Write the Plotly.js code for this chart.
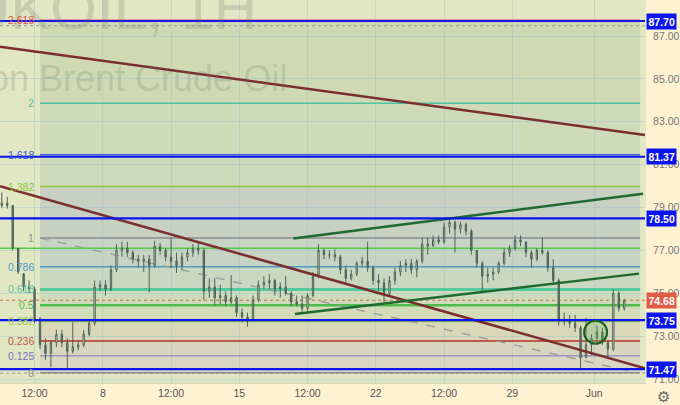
<!DOCTYPE html>
<html>
<head>
<meta charset="utf-8">
<script src="https://cdn.plot.ly/plotly-3.0.1.min.js"></script>
<style>html,body{margin:0;padding:0;background:#fef2d2;}#chart{width:680px;height:405px;}</style>
</head>
<body>
<div id="chart"></div>
<script>
// ---- DATA ----
// candles: 4.8h bars, x in trading-day units (May 1 00:00 = 0, weekends skipped)
const candleStart = 1.3;
const candleStep = 0.2;
const opens  = [79.1,79.2,79.1,77.1,75.9,75.3,75.2,73.8,72.6,72.2,72.7,73.1,72.7,72.3,72.5,72.6,73.1,73.6,75.3,75.4,
                75.2,76.1,77.0,77.1,76.9,76.6,76.5,76.6,76.3,77.2,77.0,76.7,76.5,76.3,76.7,76.9,77.1,77.0,75.1,75.3,
                74.8,74.9,74.6,74.8,74.1,73.9,73.8,74.7,75.4,75.5,75.6,75.2,75.3,75.0,74.6,74.5,74.3,74.9,75.8,77.0,
                76.8,76.8,76.7,76.1,75.7,75.9,76.4,76.5,76.2,75.6,75.5,75.0,75.6,76.0,76.3,76.4,76.1,76.5,77.3,77.2,
                77.5,77.4,78.1,78.3,78.0,78.2,77.9,77.0,76.4,75.8,75.9,76.0,76.4,76.9,77.1,77.5,77.4,76.9,76.6,77.0,
                76.9,76.2,75.6,73.8,73.7,73.6,73.4,72.0,72.6,72.9,73.2,72.7,72.4,75.0,74.3];
const highs  = [79.7,79.5,79.1,77.1,75.95,75.6,75.3,73.9,72.9,72.8,73.3,73.3,72.9,73.65,72.8,73.3,73.8,75.6,75.6,75.6,
                76.3,77.3,77.4,77.4,77.0,76.8,76.8,76.8,77.45,77.35,77.1,77.6,76.9,76.9,77.1,77.3,77.35,77.1,75.7,75.7,
                75.4,75.1,75.85,74.9,74.3,74.1,74.9,75.6,75.8,75.9,75.7,75.5,75.8,75.1,74.9,74.9,75.0,76.0,77.3,77.1,
                77.0,77.05,76.8,76.3,76.1,76.5,76.7,77.4,76.3,75.9,75.7,75.8,76.2,76.5,76.6,76.6,76.6,77.6,77.6,77.7,
                77.7,78.3,78.5,78.4,78.35,78.3,78.0,77.0,76.5,76.2,76.2,76.5,77.1,77.25,77.7,77.7,77.4,77.0,77.1,77.6,
                77.0,76.6,75.7,74.1,74.0,74.0,73.5,73.85,73.1,73.5,73.4,72.8,75.2,75.1,74.75];
const lows   = [79.0,78.95,77.0,75.9,75.1,75.0,73.6,72.4,71.9,71.55,72.5,72.5,71.5,72.2,72.35,72.5,73.0,73.5,75.1,74.9,
                75.1,76.0,76.7,76.7,76.4,76.2,76.0,75.05,76.2,76.8,76.5,76.2,75.95,76.1,76.5,76.7,76.8,74.7,74.8,74.4,
                74.5,74.4,74.5,73.9,73.65,73.45,73.7,74.6,75.2,75.2,74.9,74.8,74.9,74.4,74.4,74.1,74.1,74.8,75.7,76.6,
                76.6,76.5,75.9,75.5,75.6,75.8,76.2,76.0,75.4,75.1,74.6,74.9,75.4,75.8,76.0,75.9,75.75,76.4,76.8,77.2,
                77.3,77.3,77.8,76.9,77.8,77.7,76.8,76.2,75.05,75.5,75.6,75.9,76.3,76.7,77.0,77.2,76.7,76.2,76.5,76.8,
                76.0,75.4,73.5,73.5,73.4,73.2,71.5,72.0,72.1,72.6,72.6,72.0,72.3,74.15,74.2];
const closes = [79.2,79.1,77.1,76.0,75.3,75.2,73.8,72.6,72.2,72.7,73.1,72.7,72.3,72.5,72.6,73.1,73.6,75.3,75.4,75.2,
                76.1,77.0,77.1,76.9,76.6,76.5,76.6,76.3,77.2,77.0,76.7,76.5,76.3,76.7,76.9,77.1,77.0,75.1,75.3,74.8,
                74.9,74.6,74.8,74.1,73.9,73.8,74.7,75.4,75.5,75.6,75.2,75.3,75.0,74.6,74.5,74.3,74.9,75.8,77.0,76.8,
                76.8,76.7,76.1,75.7,75.9,76.4,76.5,76.2,75.6,75.5,75.0,75.6,76.0,76.3,76.4,76.1,76.5,77.3,77.2,77.5,
                77.4,78.1,78.3,78.0,78.2,77.9,77.0,76.4,75.8,75.9,76.0,76.4,76.9,77.1,77.5,77.4,76.9,76.6,77.0,76.9,
                76.2,75.6,73.8,73.7,73.6,73.4,72.0,72.6,72.9,73.2,72.7,72.4,75.0,74.3,74.68];

// x axis ticks
const tickVals  = [2.5, 5, 7.5, 10, 12.5, 15, 17.5, 20, 23];
const tickTexts = ['12:00', '8', '12:00', '15', '12:00', '22', '12:00', '29', 'Jun'];

// horizontal support/resistance levels (blue)
const blueLevels = [87.70, 81.37, 78.50, 73.75, 71.47];
const lastPrice = 74.68;
const greenLevel = 77.10;
const dottedLevels = [87.48, 71.28];

// fibonacci retracement
const fibRatios = [0, 0.125, 0.236, 0.382, 0.5, 0.618, 0.786, 1, 1.382, 1.618, 2, 2.618];
const fibLabels = ['0', '0.125', '0.236', '0.382', '0.5', '0.618', '0.786', '1', '1.382', '1.618', '2', '2.618'];
const fibPrice0 = 71.30;
const fibPrice1 = 77.58;
const fibX0 = 2.70;
const fibX1 = 24.68;

// trend lines [x0, price0, x1, price1]
const brownUpper = [1.234, 86.50, 24.86, 82.38];
const brownLower = [1.234, 80.00, 24.86, 71.51];
const greenUpper = [11.98, 77.56, 24.79, 79.64];
const greenLower = [12.04, 74.04, 24.64, 75.92];
const fibTrend   = [2.70, 77.58, 24.57, 71.30];
// highlighted zone (circle) [xCenter, priceCenter]
const circleCenter = [23.05, 73.19];

// ---- STYLE ----
const fibColors = ['#8a8a8a','#7b72c8','#c0584a','#9ccc4a','#4cbb4c','#55c9a0','#4b9ac9','#8c8c8c','#8cc63f','#3b5bdb','#4fc3a1','#e0504a'];
const fibWidths = [1.5,1,2,2,2.5,3,1.5,1.5,1.5,1.5,1.5,1.5];
const bandColors = ['#dad8c3','#d8d6bf','#d9d9ba','#d2dcb8','#cddcbb','#c9d8c0','#c8d4c3','#c7d0c1','#cdd9b9','#cedab8','#cfdab5'];
const X0 = 1.234, X1 = 24.86, Y0 = 70.82, Y1 = 88.68;

const xs = opens.map((_, i) => candleStart + i * candleStep);
const fibLevels = fibRatios.map(r => fibPrice0 + r * (fibPrice1 - fibPrice0));

const shapes = [];
for (let k = 0; k < fibLevels.length - 1; k++) {
  shapes.push({type:'rect', xref:'x', yref:'y', x0:fibX0, x1:fibX1, y0:fibLevels[k], y1:fibLevels[k+1],
    fillcolor: bandColors[k], line:{width:0}, layer:'below'});
}
dottedLevels.forEach(p => shapes.push({type:'line', xref:'x', yref:'y', x0:X0, x1:X1, y0:p, y1:p,
  line:{color:'#9a9a90', width:1, dash:'dot'}, layer:'between'}));
fibLevels.forEach((p, k) => shapes.push({type:'line', xref:'x', yref:'y', x0:fibX0, x1:fibX1, y0:p, y1:p,
  line:{color:fibColors[k], width:fibWidths[k]}, layer:'between'}));
shapes.push({type:'line', xref:'x', yref:'y', x0:fibTrend[0], y0:fibTrend[1], x1:fibTrend[2], y1:fibTrend[3],
  line:{color:'#9a9a9a', width:1.3, dash:'dash'}, layer:'between'});
shapes.push({type:'line', xref:'x', yref:'y', x0:X0, x1:fibX1, y0:greenLevel, y1:greenLevel,
  line:{color:'#55cc48', width:1.5}, layer:'between'});
shapes.push({type:'line', xref:'x', yref:'y', x0:X0, x1:X1, y0:lastPrice, y1:lastPrice,
  line:{color:'#e0604a', width:1, dash:'dot'}, layer:'between'});
[[brownUpper,'#7a2e2e'],[brownLower,'#7a2e2e'],[greenUpper,'#1f6a30'],[greenLower,'#1f6a30']].forEach(([t,c]) =>
  shapes.push({type:'line', xref:'x', yref:'y', x0:t[0], y0:t[1], x1:t[2], y1:t[3], line:{color:c, width:2.5}, layer:'above'}));
blueLevels.forEach(p => shapes.push({type:'line', xref:'x', yref:'y', x0:X0, x1:X1, y0:p, y1:p,
  line:{color:'#0a14f0', width:2.2}, layer:'above'}));
shapes.push({type:'circle', xref:'x', yref:'y', xsizemode:'pixel', ysizemode:'pixel',
  xanchor:circleCenter[0], yanchor:circleCenter[1], x0:-11.5, x1:11.5, y0:-11.5, y1:11.5,
  fillcolor:'rgba(90,180,90,0.25)', line:{color:'#1d5e22', width:2}, layer:'above'});

const annotations = [];
annotations.push({xref:'paper', yref:'paper', x:-0.054, y:0.884, xanchor:'left', yanchor:'bottom', showarrow:false,
  text:'UKOIL, 1H', font:{family:'Liberation Sans, Arial', size:60, color:'rgba(110,120,100,0.22)'}});
annotations.push({xref:'paper', yref:'paper', x:-0.178, y:0.737, xanchor:'left', yanchor:'bottom', showarrow:false,
  text:'CFDs on Brent Crude Oil', font:{family:'Liberation Sans, Arial', size:36, color:'rgba(110,120,100,0.22)'}});
fibLevels.forEach((p, k) => annotations.push({xref:'x', yref:'y', x:fibX0, y:p, xanchor:'right', yanchor:'middle',
  xshift:-4, showarrow:false, text:fibLabels[k], font:{family:'Liberation Sans, Arial', size:10.5, color:fibColors[k]}}));
blueLevels.forEach(p => annotations.push({xref:'paper', yref:'y', x:1, y:p, xanchor:'left', yanchor:'middle', xshift:1,
  showarrow:false, text:'<b>'+p.toFixed(2)+'</b>', bgcolor:'#0a14f0', borderpad:1.5,
  font:{family:'Liberation Sans, Arial', size:10.5, color:'#ffffff'}}));
annotations.push({xref:'paper', yref:'y', x:1, y:lastPrice, xanchor:'left', yanchor:'middle', xshift:1,
  showarrow:false, text:'<b>'+lastPrice.toFixed(2)+'</b>', bgcolor:'#e05a46', borderpad:1.5,
  font:{family:'Liberation Sans, Arial', size:10.5, color:'#ffffff'}});
annotations.push({xref:'paper', yref:'paper', x:1, y:0, xanchor:'left', yanchor:'top', xshift:10, yshift:-3,
  showarrow:false, text:'⚙', font:{family:'DejaVu Sans', size:15, color:'#666'}});

const trace = {
  type:'candlestick', x:xs, open:opens, high:highs, low:lows, close:closes,
  increasing:{line:{color:'#4e6356', width:1}, fillcolor:'#e2eae0'},
  decreasing:{line:{color:'#4e6356', width:1}, fillcolor:'#61746a'},
  hoverinfo:'skip', showlegend:false
};

const layout = {
  width:680, height:405,
  margin:{l:0, r:35, t:0, b:22},
  paper_bgcolor:'#fef2d2', plot_bgcolor:'#e1e6c3',
  boxgap:0.65,
  showlegend:false,
  font:{family:'Liberation Sans, Arial', size:10, color:'#666'},
  xaxis:{range:[X0, X1], tickvals:tickVals, ticktext:tickTexts, showgrid:true,
    gridcolor:'rgba(150,185,210,0.35)', zeroline:false, rangeslider:{visible:false},
    showline:true, linecolor:'#d6d6b8', ticks:'', tickfont:{size:10.5, color:'#555'}, fixedrange:true},
  yaxis:{range:[Y0, Y1], side:'right', tick0:71, dtick:2, tickformat:'.2f', showgrid:true,
    gridcolor:'rgba(150,185,210,0.35)', zeroline:false, showline:true, linecolor:'#e6e8cc',
    ticks:'', ticklabelstandoff:5, tickfont:{size:10.5, color:'#777'}, fixedrange:true},
  shapes:shapes, annotations:annotations
};

Plotly.newPlot('chart', [trace], layout, {displayModeBar:false, staticPlot:true});
</script>
</body>
</html>
